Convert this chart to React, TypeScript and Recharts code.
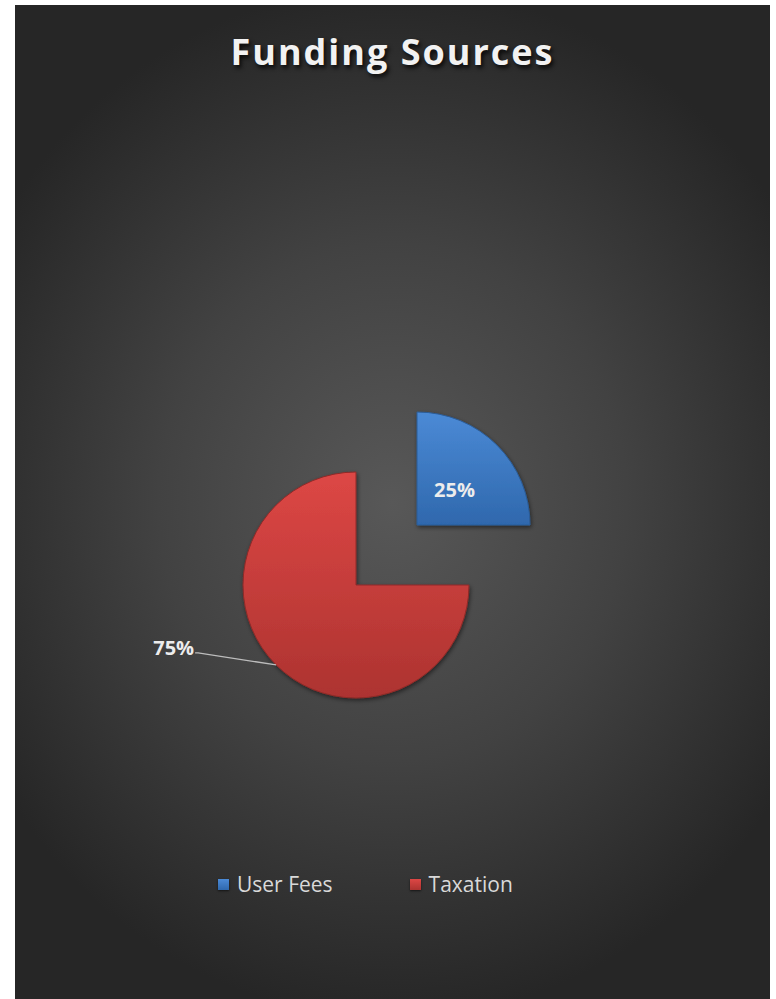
import { PieChart, Pie, Cell, Legend } from "recharts"

const categories = ["User Fees", "Taxation"]
const values = [25, 75]
const colorsTop = ["#4b8ad6", "#dd4745"]
const colorsBottom = ["#2f68ad", "#ad3330"]

const data = categories.map((name, i) => ({ name, value: values[i] }))

const W = 755
const H = 994
const R = 113

function BlueLabel(props: any) {
  const { cx, cy, midAngle, outerRadius, percent, index } = props
  if (index !== 0) return null
  const rad = (Math.PI / 180) * midAngle
  const r = outerRadius * 0.47
  const x = cx + r * Math.cos(rad)
  const y = cy - r * Math.sin(rad) + 2
  return (
    <text x={x} y={y} fill="#ececec" fontSize={20} fontWeight={700} textAnchor="middle" dominantBaseline="central" fontFamily="'Open Sans', sans-serif">
      {`${Math.round(percent * 100)}%`}
    </text>
  )
}

function RedLabel(props: any) {
  const { cx, cy, midAngle, outerRadius, percent, index } = props
  if (index !== 1) return null
  const rad = (Math.PI / 180) * midAngle
  const x0 = cx + outerRadius * Math.cos(rad)
  const y0 = cy - outerRadius * Math.sin(rad)
  const x1 = x0 - 78
  const y1 = y0 - 12
  return (
    <g>
      <polyline points={`${x0},${y0} ${x1},${y1} ${x1 - 3},${y1}`} stroke="#bdbdbd" strokeWidth={1.3} fill="none" />
      <text x={x1 - 4} y={y1 - 5} fill="#ececec" fontSize={20} fontWeight={700} textAnchor="end" dominantBaseline="central" fontFamily="'Open Sans', sans-serif">
        {`${Math.round(percent * 100)}%`}
      </text>
    </g>
  )
}

function LegendContent() {
  return (
    <div style={{ display: "flex", gap: 77, fontFamily: "'Open Sans', sans-serif", fontSize: 21, color: "#d9d9d9" }}>
      {categories.map((c, i) => (
        <div key={c} style={{ display: "flex", alignItems: "center", gap: 8 }}>
          <span
            style={{
              width: 11,
              height: 11,
              background: `linear-gradient(180deg, ${colorsTop[i]}, ${colorsBottom[i]})`,
              boxShadow: "0 1px 2px rgba(0,0,0,0.6)",
              display: "inline-block",
            }}
          />
          <span>{c}</span>
        </div>
      ))}
    </div>
  )
}

export default function App() {
  return (
    <div
      style={{
        position: "absolute",
        left: 15,
        top: 5,
        width: W,
        height: H,
        background: "radial-gradient(ellipse 62% 52% at 50% 50%, #585858 0%, #424242 50%, #262626 100%)",
      }}
    >
      <div
        style={{
          position: "absolute",
          top: 22,
          width: "100%",
          textAlign: "center",
          fontFamily: "'Open Sans', sans-serif",
          fontWeight: 700,
          fontSize: 36,
          letterSpacing: 2,
          color: "#f2f2f2",
          textShadow: "2px 3px 4px rgba(0,0,0,0.8)",
        }}
      >
        Funding Sources
      </div>
      <PieChart width={W} height={H} margin={{ top: 0, right: 0, bottom: 0, left: 0 }}>
        <defs>
          {categories.map((c, i) => (
            <linearGradient key={c} id={`g${i}`} x1="0" y1="0" x2="0" y2="1">
              <stop offset="0%" stopColor={colorsTop[i]} />
              <stop offset="100%" stopColor={colorsBottom[i]} />
            </linearGradient>
          ))}
          <filter id="sh" x="-20%" y="-20%" width="140%" height="140%">
            <feDropShadow dx="1" dy="2" stdDeviation="2" floodColor="#000" floodOpacity="0.5" />
          </filter>
        </defs>
        <Pie
          data={data}
          dataKey="value"
          nameKey="name"
          cx={402}
          cy={520}
          outerRadius={R}
          startAngle={90}
          endAngle={-270}
          isAnimationActive={false}
          label={BlueLabel}
          labelLine={false}
          legendType="none"
        >
          {data.map((d, i) => (
            <Cell
              key={d.name}
              fill={i === 0 ? "url(#g0)" : "transparent"}
              stroke={i === 0 ? "#2a5c98" : "none"}
              strokeWidth={1}
              filter={i === 0 ? "url(#sh)" : undefined}
            />
          ))}
        </Pie>
        <Pie
          data={data}
          dataKey="value"
          nameKey="name"
          cx={341}
          cy={580}
          outerRadius={R}
          startAngle={90}
          endAngle={-270}
          isAnimationActive={false}
          label={RedLabel}
          labelLine={false}
          legendType="none"
        >
          {data.map((d, i) => (
            <Cell
              key={d.name}
              fill={i === 1 ? "url(#g1)" : "transparent"}
              stroke={i === 1 ? "#8e2a28" : "none"}
              strokeWidth={1}
              filter={i === 1 ? "url(#sh)" : undefined}
            />
          ))}
        </Pie>
        <Legend content={<LegendContent />} wrapperStyle={{ position: "absolute", top: 865, left: 203, width: "auto" }} />
      </PieChart>
    </div>
  )
}
